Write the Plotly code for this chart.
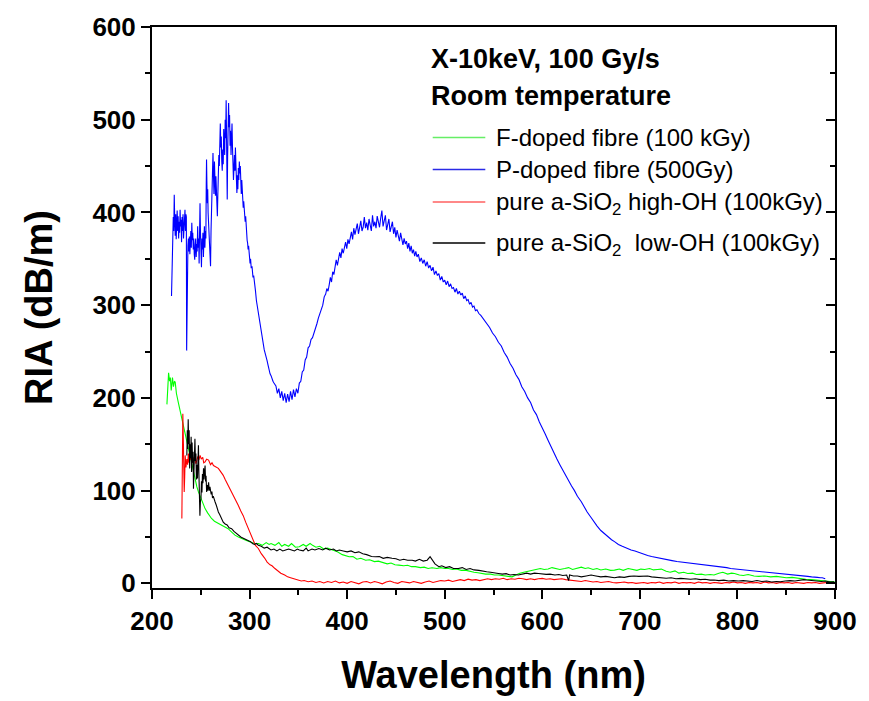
import plotly.graph_objects as go

# ---------------- data ----------------
p_doped = [(220,310),(220.5,350),(220.8,374),(221.3,360),(221.8,395),(222.3,380),(222.8,419),(223.3,392),(223.8,375),
 (224.3,398),(224.8,371),(225.3,388),(225.8,402),(226.3,380),(226.8,396),(227.3,372),(227.8,390),(228.3,378),(228.8,403),
 (229.3,385),(229.8,392),(230.3,368),(230.8,395),(231.3,380),(231.8,398),(232.3,372),(232.8,390),(233.3,385),(233.8,403),
 (234.3,380),(234.8,398),(235.2,395),(235.5,251),(235.9,300),(236.3,355),(236.8,364),(237.3,372),(237.8,358),(238.3,374),
 (238.8,355),(239.3,368),(239.8,380),(240.3,362),(240.8,389),(241.3,370),(241.8,378),(242.3,360),(242.8,372),(243.3,355),
 (243.8,349),(244.3,365),(244.8,372),(245.3,352),(245.8,366),(246.3,358),(246.8,385),(247.3,362),(247.8,372),(248.3,345),
 (248.8,395),(249.2,410),(249.7,378),(250.2,355),(250.7,341),(251.2,372),(251.7,360),(252.2,378),(252.7,352),(253.2,370),
 (253.7,385),(254.2,362),(254.7,380),(255.2,372),(255.6,430),(255.9,457),(256.3,430),(256.7,410),(257.1,425),(257.5,400),
 (258,390),(258.5,372),(259,365),(259.5,350),(260,342),(260.5,380),(261,400),(261.5,430),(262,445),(262.5,464),(263,440),
 (263.5,420),(264,455),(264.5,435),(265,418),(265.5,439),(266,425),(266.5,410),(267,396),(267.5,420),(268,440),(268.5,462),
 (269,450),(269.5,480),(270,496),(270.5,470),(271,482),(271.5,455),(272,445),(272.5,468),(273,452),(273.5,490),(274,475),
 (274.5,462),(275,500),(275.5,480),(276,521),(276.4,495),(276.8,455),(277.1,414),(277.5,460),(278,500),(278.5,518),(279,492),
 (279.5,505),(280,472),(280.5,488),(281,462),(281.5,480),(282,496),(282.5,470),(283,455),(283.5,435),(284,448),(284.5,462),
 (285,445),(285.5,470),(286,452),(286.5,432),(287,421),(287.5,440),(288,425),(288.5,448),(289,435),(289.5,455),(290,442),
 (290.5,450),(291,432),(291.5,420),(292,435),(292.5,418),(293,421),(293.5,405),(294,412),(294.5,398),(295,405),(295.5,390),
 (296,396),(296.5,380),(297,384),(297.5,370),(298,367),(298.5,360),(299,364),(299.5,352),(300,356),(300.5,345),(301,350),
 (301.7,340),(302.5,342),(303.5,330),(304.2,332),(305,321),(306,316),(307,305),(308,298),(309,290),(310,284),(311,275),
 (312,272),(313,264),(314,258),(315,252),(316,248),(317,242),(318,240),(319,235),(320,230),(321,226),(322,224),(323,220),
 (324,218),(325,216),(326,214),(327,213),(328.5,205),(330,210),(331.5,200),(333,207),(334.5,197),(336,205),(337.5,195),
 (339,204),(340.5,196),(342,207),(343.5,198),(345,209),(346.5,201),(348,210),(349.5,205),(351,216),(352.5,218),(354,228),
 (355.5,230),(357,241),(358.5,244),(360,254),(361.5,256),(363,263),(364.5,265),(366,270),(367.5,273),(369,280),(370.5,286),
 (372,290),(373.5,296),(375,300),(376.5,309),(378,312),(379.2,318),(380.4,315),(381.6,322),(382.8,330),(384,325),(385.2,336),
 (386.4,333),(387.6,342),(388.8,349),(390,343),(391.2,352),(392.4,357),(393.6,351),(394.8,361),(396,356),(397.2,364),
 (398.4,368),(399.6,361),(400.8,371),(402,366),(403.2,374),(404.4,379),(405.6,371),(406.8,383),(408,376),(409.2,381),
 (410.4,388),(411.6,377),(412.8,386),(414,391),(415.2,380),(416.4,384),(417.6,395),(418.8,383),(420,389),(421.2,381),
 (422.4,393),(423.6,386),(424.8,380),(426,397),(427.2,385),(428.4,390),(429.6,383),(430.8,396),(432,388),(433.2,384),
 (434.4,394),(435.6,402),(436.8,385),(438,391),(439.2,397),(440.4,381),(441.6,388),(442.8,393),(444,379),(445.2,386),
 (446.4,390),(447.6,377),(448.8,384),(450,373),(451.2,381),(452.4,375),(453.6,369),(454.8,378),(456,372),(457.2,365),
 (458.4,372),(459.6,366),(460.8,369),(462,361),(463.2,367),(464.4,358),(465.6,364),(466.8,356),(468,360),(469.2,353),
 (470.4,358),(471.6,352),(473,355),(474.5,347),(476,351),(477.5,345),(479,349),(480.5,342),(482,347),(483.5,340),(485,343),
 (486.5,337),(488,341),(489.5,333),(491,337),(492.5,332),(494,334),(495.5,327),(497,331),(498.5,325),(500,327),(501.5,322),
 (503,326),(504.5,320),(506,323),(507.5,318),(509,319),(510.5,314),(512,318),(513.5,312),(515,315),(516.5,311),(518,313),
 (519.5,307),(521,310),(522.5,305),(524,306),(525.5,301),(527,303),(528.5,298),(530,299),(531.5,294),(533,295),(535,291),
 (537,289),(540,285),
 (543,280),(546,276),(549,270),(552,266),(555,260),(558,256),(561,249),(564,244),(567,237),(570,232),(573,225),(576,220),
 (579,212),(582,207),(585,200),(588,195),(591,187),(594,182),(597,174),(600,168),(603,161),(606,154),(609,147),(612,140),
 (615,134),(618,128),(621,122),(624,117),(627,111),(630,105),(633,100),(636,94),(640,88),(643,82),(646,77),(650,71),(653,66),
 (656,62),(660,57),(664,53),(667,51),(671,47),(674,45),(678,42),(682,40),(686,38),(691,36),(695,35),(700,33),(704,31),
 (708,30),(712,29),(716,28),(720,27),(725,26),(729,25),(733,24.5),(738,23.5),(742,23),(746,22.5),(751,22),(755,21),(760,21),
 (764,20),(768,20),(772,19),(776,19),(781,18),(785,17.5),(789,17),(793,16),(798,15.5),(802,15),(806,14.5),(810,14),(815,13.5),
 (819,13),(823,12.5),(827,12),(832,11.5),(836,11),(840,11),(844,11),(848,10),(852,10),(856,9.5),(860,9),(864,8.5),(868,8),
 (872,7.5),(876,7),(879,7),(882,6.5),(885,6),(887,6),(890,5)]

f_doped = [(215.3,193),(216,205),(217,227),(218,218),(218.8,222),(219.7,208),(220.5,216),(221,222),(222,212),(223,218),
 (223.8,217),(225,205),(227,195),(229,185),(230.5,177),(232.3,167),(234,160),(236,150),(237.4,145),(239,138),(241,128),
 (242.5,120),(244,112),(246,104),(247.6,98.6),(250,92),(252,86),(254.4,80.6),(257,76),(261,70),(264,67),(268,64.5),(272,62),
 (275,60),(278,59),(282,55),(285,52),(288.5,50),(292,48),(295,47),(298.7,45.5),(302,44),(305,43),(309,43),(313,41),(317,44),
 (320,42),(322,43),(326,41),(330,44),(333,40),(336,42),(340,40),(343,43),(347,39),(351,39.4),(355,42),(358,40),(362,43),
 (364.6,41),(368,39),(372,40),(376,37),(380,38),(385,36),(390,34),(395,31),(398,30),(402,28.7),(406,29),(410,26),(414,27),
 (419,25),(423,25.5),(428,23.5),(432,24),(436,23),(441,21),(445,22),(449,20),(453,19.7),(458,19),(462,19.5),(466,18),(470,18),
 (475,17),(479,17.5),(483,16),(487,16.8),(492,16),(496,17),(500,16),(504,16),(508,15),(512,15.5),(517,14),(521,14.3),(525,13),
 (530,12),(534,11.5),(538,10.7),(542,10),(547,10),(551,9),(555,9),(560,8),(565,7.5),(569,7),(573,9),(577,11),(581,12),(585,13),
 (589,14.3),(594,15),(598,16),(602,15),(606,15.4),(610,17),(614,16),(618,15),(623,16),(627,17),(631,15),(635,16),(640,17.5),
 (644,16),(647,16.8),(652,15),(656,16),(660,14.5),(665,15.5),(670,14),(674,14.3),(679,15.5),(683,14),(688,16),(692,15),
 (697,14),(701,15.4),(705,15),(710,16),(714,14.5),(718,15),(722,15.4),(727,13),(731,12),(736,13.5),(740,11),(745,12),
 (749,10.7),(754,11),(758,9.5),(763,10),(767,9),(772,9.5),(776,9),(781,11),(785,12),(790,10),(794,11),(797,10.7),(802,9),
 (806,8.5),(811,9.5),(817,8),(822,7.5),(828,8),(834,7),(840,7.5),(844,7),(850,6),(856,6.5),(861,5.5),(865,5.4),(870,4.5),
 (876,4),(882,3.5),(888,2.5),(893,2),(897,1.8),(900,1.5)]

high_oh = [(230.6,70),(231.2,120),(231.6,183),(232.2,150),(233,98.6),(233.5,115),(234,138),(234.8,125),(235.7,134),(236.5,128),
 (237.3,140),(238,130),(239,138),(240,133),(241,139),(242,130),(243,136),(244,134),(245,129),(246,135),(247,137),(248,133),
 (249.3,138),(250.5,134),(252,136),(253,130),(254.4,131),(256,134),(258,133),(260,128),(261.5,130),(263,127),(265,126),
 (268,124),(270,121),(273,116.5),(275,112),(278,106),(280,102),(283,95),(285,92),(288.5,84),(291,78),(293.5,73),(296,66),
 (298.7,59),(301,52),(303.7,45),(306,41),(309,37.6),(312,32),(315.6,27),(318,23),(321,20),(323,19),(326,16),(329,13),(332,11),
 (336,9),(339,7),(342,6),(346,4.5),(349.7,3.6),(353,2.5),(356,3),(360,1.8),(364,2.5),(368,1),(372,2),(376,0.5),(380,2),(384,1),
 (388,2.5),(392,0.5),(396,1.5),(400,0),(404,2),(408,1),(412,-0.5),(416,1.5),(420,2),(424,0.5),(428,2),(432,1),(436,-0.5),
 (440,1.5),(444,2.5),(448,1),(452,0),(456,2),(460,1.5),(464,0.5),(468,2),(472,1),(476,0),(480,1.5),(484,2.5),(488,1),(492,2),
 (496,3),(500,2.5),(504,3.5),(508,2),(512,3),(516,4),(520,3),(524,4.5),(528,3.5),(532,4),(536,3),(540,4),(544,5),(548,4),
 (552,5),(556,4.5),(560,5.5),(564,4),(568,5),(572,4.5),(576,5.5),(580,5),(584,4),(588,5),(592,4),(596,5),(600,5.4),(604,4.5),
 (608,5),(612,4),(616,4.5),(620,5),(624,4),(628,3.5),(632,3),(636,2.5),(640,2),(644,3),(648,2.5),(652,1.5),(656,2),(660,1),
 (664,1.5),(668,2),(672,1),(676,0.5),(680,1),(684,1.5),(688,0.5),(692,1),(696,0),(700,0.5),(704,1),(708,0),(712,1),(716,0.5),
 (720,1.5),(724,0),(728,1),(732,0.5),(736,1.5),(740,0),(744,1),(748,0.5),(752,1),(756,0),(760,1.5),(764,0.5),(768,1),(772,0),
 (776,1),(780,0.5),(784,0),(788,1),(792,0.5),(796,1.5),(800,0.5),(804,1),(808,0),(812,1),(816,0.5),(820,1),(824,0),(828,1.5),
 (832,0.5),(836,1),(840,0),(844,1),(848,0.5),(852,1),(856,0),(860,1),(864,0.5),(868,0),(872,1),(876,0.5),(880,1),(884,0),
 (888,0.5),(892,1),(896,0),(900,0.5)]

low_oh = [(235.7,138),(236.2,165),(236.6,145),(237.1,177),(237.6,150),(238.1,165),(238.6,124),(239.1,150),(239.6,135),
 (240.1,158),(240.6,120),(241.1,152),(241.6,130),(242.1,142),(242.5,102),(243,135),(243.5,118),(244,156),(244.5,132),(245,140),
 (245.5,112),(246,128),(246.6,113),(247.1,135),(247.6,149),(248.1,118),(248.6,96),(249.1,73),(249.6,88),(250.2,92),(250.7,110),
 (251.2,98),(251.7,118),(252.2,108),(252.8,124),(253.3,112),(253.8,120),(254.4,127),(254.9,110),(255.4,116),(256,98.6),(256.6,106),
 (257.2,100),(258,109),(258.7,100),(259.4,104),(260,100),(260.7,96),(261.4,99),(262,92),(262.8,94),(263.5,90),(264.6,88),
 (266,84),(267,80),(268,77),(269.5,74),(271,70),(273,66),(275,64),(277,63),(279,60),(281.6,59),(284,56),
 (286,54),(288.5,52),(291,50),(293,49),(295,48),(298.7,46.6),(301,45),(303,43),(305,42),(307,43),(309,41),(312,40),(315,38),
 (318,39),(322,36),(325,37),(328,35),(331,37),(334,35),(337,36),(340,37),(343,36),(346,35),(349,37),(351,36),(355,35),(358,38),
 (360,35),(364,37),(367,36),(371,37.6),(375,36),(378,38),(382,36),(386,37),(389,35),(392,36),(396,35),(400,34),(404,35),
 (408,33),(412,34),(416,32),(420,31),(425,29),(429,28.7),(433,29),(437,27),(441,28),(446,27),(450,26.5),(454,25),(458,26),
 (462,25),(466.7,25),(470,24),(474,26),(478,24),(482,25),(485,28.7),(488,24),(490,21),(494,18),(497,19),(501,17),(505,18),
 (509,16),(514,16),(518,17),(522,15),(526,16),(530,14.5),(535,14),(539,13),(543,12.5),(547,12),(551,11),(555,10.7),(559,10),
 (563,10.5),(567,9),(571,9.5),(575.5,9),(580,10),(584,11),(588,10),(592,11),(596,10.7),(600,10),(604,9.7),(608,10),(613,9),
 (617,9.5),(621,8.5),(625,9),(627,3),(628,9),(632,8),(636,8),(640,7),(645,8),(650,9),(655,8),(660,7),(665,7.5),(670,6.5),
 (674,6),(679,7),(684,6.5),(689,7.5),(694,8),(699,7.5),(704,8),(708,7.9),(712,7),(717,6.5),(722,6),(727,5.5),(732,6),(737,5),
 (742,5.4),(747,5),(752,4.5),(757,5),(762,4),(767,4.5),(772,3.5),(776,3.6),(781,3),(786,3.5),(791,2.5),(796,3),(801,2.5),
 (806,3),(810,2.5),(815,2),(820,3),(825,2),(830,2.5),(835,1.5),(840,2),(844,1.8),(849,2.5),(854,3),(859,2.5),(864,3.5),(868,4),
 (871,3.6),(876,3),(881,2.5),(886,2),(890,2.5),(895,1.5),(899,1.8)]

series_names = ["F-doped fibre (100 kGy)", "P-doped fibre (500Gy)",
                "pure a-SiO<sub>2</sub> high-OH (100kGy)", "pure a-SiO<sub>2</sub>  low-OH (100kGy)"]
series_data = [f_doped, p_doped, high_oh, low_oh]
series_colors = ["#00ff00", "#0000ff", "#ff0000", "#000000"]
legend_colors = ["#66ee66", "#2a2ae6", "#ff6060", "#000000"]

x_ticks = [200, 300, 400, 500, 600, 700, 800, 900]
y_ticks = [0, 100, 200, 300, 400, 500, 600]
header_lines = ["X-10keV, 100 Gy/s", "Room temperature"]

FONT = "Liberation Sans, Arial, sans-serif"

fig = go.Figure()
for name, data, col in zip(series_names, series_data, series_colors):
    xs = [p[0] for p in data]
    ys = [p[1] for p in data]
    fig.add_trace(go.Scatter(x=xs, y=ys, mode="lines", name=name,
                             line=dict(color=col, width=1.1), showlegend=False))

# invisible trace to hold the right-side axis
fig.add_trace(go.Scatter(x=[None], y=[None], yaxis="y2", showlegend=False, hoverinfo="skip"))

axis_common = dict(showgrid=False, zeroline=False, showline=True, linecolor="black", linewidth=2,
                   tickcolor="black", tickwidth=1.5, ticklen=9,
                   tickfont=dict(family=FONT, size=26, color="black", weight="bold"))

fig.update_layout(
    width=869, height=701,
    margin=dict(l=152, r=29, t=26, b=111),
    paper_bgcolor="white", plot_bgcolor="white",
    xaxis=dict(range=[200, 900], tickvals=x_ticks, ticks="outside", mirror=True,
               minor=dict(dtick=50, ticklen=5, tickwidth=1.5, tickcolor="black", ticks="outside"),
               title=dict(text="Wavelength (nm)", standoff=26,
                          font=dict(family=FONT, size=38, color="black", weight="bold")),
               **axis_common),
    yaxis=dict(range=[-5, 600], tickvals=y_ticks, ticks="outside",
               minor=dict(dtick=50, ticklen=5, tickwidth=1.5, tickcolor="black", ticks="outside"),
               title=dict(text="RIA (dB/m)", standoff=28,
                          font=dict(family=FONT, size=38, color="black", weight="bold")),
               **axis_common),
    yaxis2=dict(range=[-5, 600], overlaying="y", side="right", tickvals=y_ticks, ticks="inside",
                showticklabels=False, showgrid=False, zeroline=False, showline=True,
                linecolor="black", linewidth=2, tickcolor="black", tickwidth=1.5, ticklen=9,
                minor=dict(dtick=50, ticklen=5, tickwidth=1.5, tickcolor="black", ticks="inside")),
    showlegend=False,
)

# header text
for i, txt in enumerate(header_lines):
    fig.add_annotation(x=0.405, y=[0.943, 0.877][i], xref="paper", yref="paper",
                       text=txt, showarrow=False, xanchor="left", yanchor="middle",
                       font=dict(family=FONT, size=27, color="black", weight="bold"))

# manual legend
row_y = [0.803, 0.746, 0.688, 0.615]
for name, col, yy in zip(series_names, legend_colors, row_y):
    fig.add_shape(type="line", xref="paper", yref="paper", x0=0.411, x1=0.488, y0=yy, y1=yy,
                  line=dict(color=col, width=1.5))
    has_sub = "<sub>" in name
    fig.add_annotation(x=0.5, y=yy + (0.0 if not has_sub else -0.002), xref="paper", yref="paper",
                       text=name, showarrow=False, xanchor="left", yanchor="middle",
                       font=dict(family=FONT, size=24, color="black"))

fig.write_html("out.html")
